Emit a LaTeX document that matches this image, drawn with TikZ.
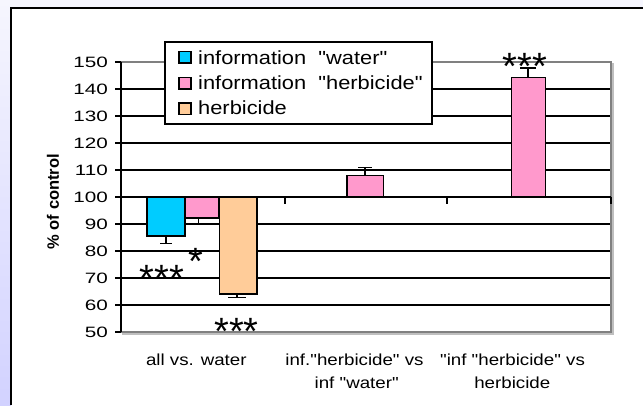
\documentclass[tikz,border=0pt]{standalone}
\usepackage{fontspec}
\usepackage{graphicx}
\newfontfamily\cf{Liberation Sans}
\definecolor{cyanbar}{HTML}{00CCFF}
\definecolor{pinkbar}{HTML}{FF99CC}
\definecolor{orangebar}{HTML}{FFCC99}
\definecolor{bgtop}{HTML}{F6F6FE}
\definecolor{bgleft}{HTML}{D2D2FF}
\definecolor{framegrey}{HTML}{808080}
\newcommand\hs[2]{\scalebox{#1}[1]{#2}}
\begin{document}
\begin{tikzpicture}[x=1pt,y=-1pt,
  grid/.style={line width=1.2pt,black},
  gridthick/.style={line width=1.8pt,black},
  barbox/.style={line width=1.5pt,draw=black},
  errbar/.style={line width=1.5pt,black},
  ticklab/.style={anchor=east,inner sep=0pt,font=\cf\fontsize{15}{18}\selectfont},
  leglab/.style={anchor=base west,inner sep=0pt,font=\cf\fontsize{19}{22}\selectfont},
  catlab/.style={anchor=base,inner sep=0pt,font=\cf\fontsize{16}{19}\selectfont},
  starlab/.style={anchor=north,inner sep=0pt,font=\cf\fontsize{38}{40}\selectfont},
  legsq/.style={line width=1.3pt,draw=black}]
\useasboundingbox (0,0) rectangle (643,405);
% background
\fill[bgtop] (0,0) rectangle (643,8);
\shade[top color=bgtop,bottom color=bgleft] (0,0) rectangle (11,405);
\fill[white] (11,8) rectangle (643,405);
\draw[line width=2.2pt,black] (11,405) -- (11,8) -- (643,8);
% gridlines
\foreach \v in {60,70,80,90,110,120} \draw[grid] (121,{197-(\v-100)*2.7}) -- (611,{197-(\v-100)*2.7});
\foreach \v in {130,140} \draw[gridthick] (121,{197-(\v-100)*2.7}) -- (611,{197-(\v-100)*2.7});
% plot frame
\draw[line width=3pt,black!25] (122,333.5) -- (612.5,333.5) -- (612.5,63);
\draw[line width=1.5pt,framegrey] (121,62) -- (611,62) -- (611,332) -- (121,332);
% tick labels
\foreach \v in {50,60,...,150} \node[ticklab] (t\v) at (108,{197-(\v-100)*2.7}) {\hs{1.38}{\v}};
% y axis
\draw[line width=2pt,black] (121,62) -- (121,332);
\foreach \v in {50,60,...,150} \draw[line width=1.5pt,black] (115,{197-(\v-100)*2.7}) -- (121,{197-(\v-100)*2.7});
% bars
\draw[barbox,fill=cyanbar] (147,197) rectangle (185,236);
\draw[barbox,fill=pinkbar] (185,197) rectangle (219,218);
\draw[barbox,fill=orangebar] (219.5,197) rectangle (257,294);
\draw[barbox,fill=pinkbar] (347,197) rectangle (383.3,175.7);
\draw[barbox,fill=pinkbar] (511.3,197) rectangle (545.3,77.7);
% error bars
\draw[errbar] (166,236) -- (166,243.7) (160,243.7) -- (172,243.7);
\draw[errbar] (198.5,218) -- (198.5,223.3) (190,223.3) -- (207,223.3);
\draw[errbar] (237,294) -- (237,297.5) (228,297.5) -- (246,297.5);
\draw[errbar] (365,175.7) -- (365,167.7) (358,167.7) -- (372,167.7);
\draw[errbar] (528,77.7) -- (528,68) (520,68) -- (536,68);
% x axis at 100
\draw[line width=2pt,black] (121,197) -- (611,197);
\foreach \xx in {285,447,611} \draw[line width=1.5pt,black] (\xx,197) -- (\xx,203.5);
% stars
\node[starlab] (s1) at (162,265) {***};
\node[starlab] (s2) at (196,248.3) {*};
\node[starlab] (s3) at (236.5,318) {***};
\node[starlab] (s4) at (525,53) {***};
% y label
\node[rotate=90,inner sep=0pt,font=\cf\bfseries\fontsize{16.5}{19}\selectfont] (ylab) at (53,201.7) {\% of control};
% legend
\draw[line width=1.6pt,draw=black,fill=white] (165,42) rectangle (432,124);
\draw[legsq,fill=cyanbar] (179,51.5) rectangle (191,63);
\draw[legsq,fill=pinkbar] (179,77.5) rectangle (191,89);
\draw[legsq,fill=orangebar] (179,103) rectangle (191,114.5);
\node[leglab] (l1) at (198,64) {\hs{1.15}{information\ \ "water"}};
\node[leglab] (l2) at (198,89) {\hs{1.15}{information\ \ "herbicide"}};
\node[leglab] (l3) at (198,114) {\hs{1.15}{herbicide}};
% category labels
\node[catlab] (c1) at (196.3,365) {\hs{1.17}{all vs. water}};
\node[catlab] (c2a) at (354.5,365) {\hs{1.17}{inf."herbicide" vs}};
\node[catlab] (c2b) at (356.7,388.3) {\hs{1.17}{inf "water"}};
\node[catlab] (c3a) at (512.5,365) {\hs{1.17}{"inf "herbicide" vs}};
\node[catlab] (c3b) at (512.3,388.3) {\hs{1.17}{herbicide}};
\end{tikzpicture}
\end{document}
